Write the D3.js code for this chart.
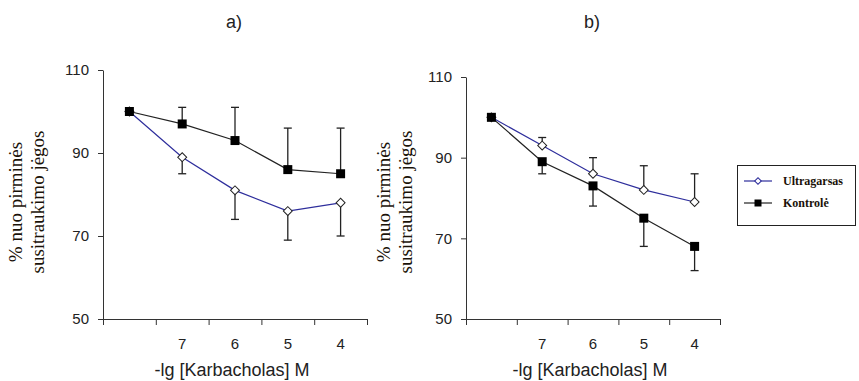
<!DOCTYPE html>
<html>
<head>
<meta charset="utf-8">
<script src="https://cdn.jsdelivr.net/npm/d3@7"></script>
<style>
  body { margin: 0; background: #fff; }
  svg { display: block; }
  .tick text { font-family: "Liberation Sans", Arial, sans-serif; font-size: 15px; fill: #222; }
  .serif { font-family: "Liberation Serif", "Times New Roman", Times, serif; }
  .sans { font-family: "Liberation Sans", Arial, sans-serif; }
</style>
</head>
<body>
<div id="chart"></div>
<script>
// Categories on the x axis (first one has no label)
var categories = ['', '7', '6', '5', '4'];
var yTicks = [50, 70, 90, 110];

// Panel a)
var aKontrole = [100, 97, 93, 86, 85];
var aKontroleErr = [0, 4, 8, 10, 11];
var aUltra = [100, 89, 81, 76, 78];
var aUltraErr = [0, 4, 7, 7, 8];

// Panel b)
var bKontrole = [100, 89, 83, 75, 68];
var bKontroleErr = [0, 3, 5, 7, 6];
var bUltra = [100, 93, 86, 82, 79];
var bUltraErr = [0, 2, 4, 6, 7];

var blue = '#2e2e9c';

var svg = d3.select('#chart').append('svg')
    .attr('width', 859)
    .attr('height', 381);

function drawPanel(opts) {
    var g = svg.append('g');

    var x = d3.scaleBand().domain(categories).range([opts.x0, opts.x1]).padding(0);
    var xt = d3.scaleLinear().domain([0, categories.length]).range([opts.x0, opts.x1]);
    var y = d3.scaleLinear().domain([50, 110]).range([opts.y1, opts.y0]);

    // y axis
    g.append('g')
        .attr('transform', 'translate(' + opts.x0 + ',0)')
        .call(d3.axisLeft(y).tickValues(yTicks).tickSize(5).tickSizeOuter(0).tickPadding(9))
        .call(function(s){ s.selectAll('line, path').attr('stroke', '#333'); });

    // x axis ticks at band boundaries
    g.append('g')
        .attr('transform', 'translate(0,' + opts.y1 + ')')
        .call(d3.axisBottom(xt).tickValues(d3.range(categories.length + 1)).tickSize(6).tickSizeOuter(0).tickFormat(''))
        .call(function(s){ s.selectAll('line, path').attr('stroke', '#333'); });

    // x category labels
    g.append('g')
        .attr('transform', 'translate(0,' + opts.y1 + ')')
        .call(d3.axisBottom(x).tickSize(0).tickPadding(19))
        .call(function(s){ s.select('.domain').remove(); });

    // titles
    g.append('text')
        .attr('class', 'sans')
        .attr('x', (opts.x0 + opts.x1) / 2 - 1)
        .attr('y', 28)
        .attr('text-anchor', 'middle')
        .attr('font-size', 18)
        .attr('fill', '#222')
        .text(opts.title);

    g.append('text')
        .attr('class', 'sans')
        .attr('x', (opts.x0 + opts.x1) / 2 - 3)
        .attr('y', opts.y1 + 57)
        .attr('text-anchor', 'middle')
        .attr('font-size', 18)
        .attr('fill', '#222')
        .text('-lg [Karbacholas] M');

    var yt = g.append('text')
        .attr('class', 'serif')
        .attr('transform', 'translate(' + opts.titleX + ',' + 202 + ') rotate(-90)')
        .attr('text-anchor', 'middle')
        .attr('font-size', 19)
        .attr('fill', '#1a1208');
    yt.append('tspan').attr('x', 0).attr('dy', 0).text('% nuo pirminės');
    yt.append('tspan').attr('x', 0).attr('dy', 22).text('susitraukimo jėgos');

    var cx = function(i){ return x(categories[i]) + x.bandwidth() / 2; };

    function errorBars(vals, errs, dir) {
        vals.forEach(function(v, i){
            if (!errs[i]) return;
            var end = y(v + dir * errs[i]);
            g.append('line')
                .attr('x1', cx(i)).attr('x2', cx(i))
                .attr('y1', y(v)).attr('y2', end)
                .attr('stroke', '#222').attr('stroke-width', 1.3);
            g.append('line')
                .attr('x1', cx(i) - 4).attr('x2', cx(i) + 4)
                .attr('y1', end).attr('y2', end)
                .attr('stroke', '#222').attr('stroke-width', 1.3);
        });
    }

    var line = d3.line().x(function(d, i){ return cx(i); }).y(function(d){ return y(d); });

    errorBars(opts.ultra, opts.ultraErr, opts.ultraDir);
    errorBars(opts.kontrole, opts.kontroleErr, opts.kontroleDir);

    // Ultragarsas
    g.append('path').datum(opts.ultra)
        .attr('d', line).attr('fill', 'none').attr('stroke', blue).attr('stroke-width', 1.2);
    g.selectAll('.dia').data(opts.ultra).enter().append('path')
        .attr('d', d3.symbol().type(d3.symbolSquare).size(40))
        .attr('transform', function(d, i){ return 'translate(' + cx(i) + ',' + y(d) + ') rotate(45)'; })
        .attr('fill', '#fff').attr('stroke', '#222').attr('stroke-width', 1);

    // Kontrolė
    g.append('path').datum(opts.kontrole)
        .attr('d', line).attr('fill', 'none').attr('stroke', '#222').attr('stroke-width', 1.2);
    g.selectAll('.sq').data(opts.kontrole).enter().append('path')
        .attr('d', d3.symbol().type(d3.symbolSquare).size(81))
        .attr('transform', function(d, i){ return 'translate(' + cx(i) + ',' + y(d) + ')'; })
        .attr('fill', '#000');
}

drawPanel({
    x0: 103, x1: 367, y0: 70, y1: 319, title: 'a)', titleX: 22,
    kontrole: aKontrole, kontroleErr: aKontroleErr, kontroleDir: 1,
    ultra: aUltra, ultraErr: aUltraErr, ultraDir: -1
});

drawPanel({
    x0: 466, x1: 720, y0: 77, y1: 319, title: 'b)', titleX: 390,
    kontrole: bKontrole, kontroleErr: bKontroleErr, kontroleDir: -1,
    ultra: bUltra, ultraErr: bUltraErr, ultraDir: 1
});

// Legend
var legend = svg.append('g').attr('transform', 'translate(737,165)');
legend.append('rect')
    .attr('x', 0.5).attr('y', 0.5).attr('width', 118).attr('height', 60)
    .attr('fill', '#fff').attr('stroke', '#222').attr('stroke-width', 1);

var legendItems = [
    {name: 'Ultragarsas', color: blue, marker: 'diamond'},
    {name: 'Kontrolė', color: '#222', marker: 'square'}
];
legendItems.forEach(function(d, i){
    var yy = 16 + i * 22;
    legend.append('line')
        .attr('x1', 7).attr('x2', 35).attr('y1', yy).attr('y2', yy)
        .attr('stroke', d.color).attr('stroke-width', 1.2);
    if (d.marker === 'diamond') {
        legend.append('path')
            .attr('d', d3.symbol().type(d3.symbolSquare).size(22))
            .attr('transform', 'translate(21,' + yy + ') rotate(45)')
            .attr('fill', '#fff').attr('stroke', d.color);
    } else {
        legend.append('path')
            .attr('d', d3.symbol().type(d3.symbolSquare).size(49))
            .attr('transform', 'translate(21,' + yy + ')')
            .attr('fill', '#000');
    }
    legend.append('text')
        .attr('class', 'serif')
        .attr('x', 46).attr('y', yy + 4)
        .attr('font-size', 12)
        .attr('font-weight', 'bold')
        .attr('fill', '#1a1208')
        .text(d.name);
});
</script>
</body>
</html>
